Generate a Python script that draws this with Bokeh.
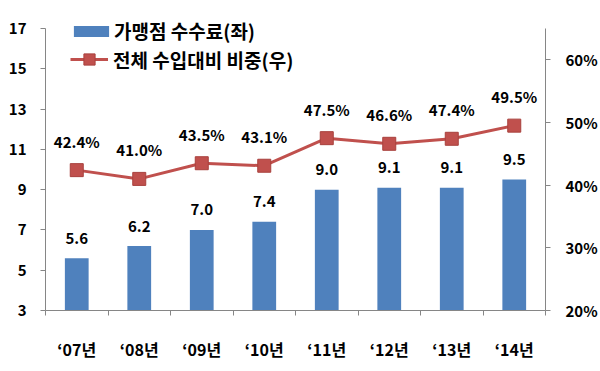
from bokeh.plotting import figure
from bokeh.models import (ColumnDataSource, Range1d, LinearAxis, FixedTicker,
                          PrintfTickFormatter, Legend, LegendItem)
from bokeh.core.properties import value
from bokeh.embed import file_html
from bokeh.resources import INLINE

categories = ["‘07년", "‘08년", "‘09년", "‘10년", "‘11년", "‘12년", "‘13년", "‘14년"]
fees = [5.6, 6.2, 7.0, 7.4, 9.0, 9.1, 9.1, 9.5]
share = [42.4, 41.0, 43.5, 43.1, 47.5, 46.6, 47.4, 49.5]
left_ticks = [3, 5, 7, 9, 11, 13, 15, 17]
right_ticks = [20, 30, 40, 50, 60]
bar_name = "가맹점 수수료(좌)"
line_name = "전체 수입대비 비중(우)"

FONT = "Noto Sans CJK KR"
BLUE = "#4F81BD"
RED = "#C0504D"
AXIS = "#868686"

# layout: axes span 282px; frame extended 14px above for the legend
AXIS_PX = 282.0
EXTRA_PX = 14.0
left_lo, left_hi = 3, 17
right_lo, right_hi = 20, 65
left_top = left_hi + (left_hi - left_lo) * EXTRA_PX / AXIS_PX
right_top = right_hi + (right_hi - right_lo) * EXTRA_PX / AXIS_PX

xs = list(range(1, len(categories) + 1))
src = ColumnDataSource(dict(
    x=xs, fee=fees, share=share,
    fee_lbl=[f"{v:.1f}" for v in fees],
    share_lbl=[f"{v:.1f}%" for v in share],
))

p = figure(width=600, height=371, output_backend="svg", toolbar_location=None,
           x_range=Range1d(0.5, len(categories) + 0.5),
           y_range=Range1d(left_lo, left_top),
           min_border_left=45, min_border_right=55, min_border_top=14, min_border_bottom=61,
           x_axis_location=None, y_axis_location=None)
p.outline_line_color = None
p.xgrid.visible = False
p.ygrid.visible = False
p.background_fill_color = "white"
p.border_fill_color = "white"
p.extra_y_ranges = {"pct": Range1d(right_lo, right_top)}

# left axis
yl = LinearAxis(ticker=FixedTicker(ticks=left_ticks, minor_ticks=[]),
                bounds=(left_lo, left_hi))
yl.axis_line_color = AXIS
yl.major_tick_line_color = AXIS
yl.major_tick_out = 5
yl.major_tick_in = 0
yl.minor_tick_line_color = None
yl.major_label_standoff = 14
yl.major_label_text_font = FONT
yl.major_label_text_font_style = "bold"
yl.major_label_text_font_size = "15px"
yl.major_label_text_color = "black"
p.add_layout(yl, "left")

# right axis
yr = LinearAxis(y_range_name="pct", ticker=FixedTicker(ticks=right_ticks, minor_ticks=[]),
                formatter=PrintfTickFormatter(format="%d%%"), bounds=(right_lo, right_hi))
yr.axis_line_color = AXIS
yr.major_tick_line_color = AXIS
yr.major_tick_out = 5
yr.major_tick_in = 0
yr.minor_tick_line_color = None
yr.major_label_standoff = 15
yr.major_label_text_font = FONT
yr.major_label_text_font_style = "bold"
yr.major_label_text_font_size = "15px"
yr.major_label_text_color = "black"
p.add_layout(yr, "right")

# bottom axis: labels at centres, ticks at boundaries
bounds = [x - 0.5 for x in xs] + [xs[-1] + 0.5]
xa = LinearAxis(ticker=FixedTicker(ticks=xs, minor_ticks=bounds))
xa.major_label_overrides = {x: c for x, c in zip(xs, categories)}
xa.axis_line_color = AXIS
xa.major_tick_line_color = None
xa.major_tick_out = 0
xa.major_tick_in = 0
xa.minor_tick_line_color = AXIS
xa.minor_tick_out = 5
xa.minor_tick_in = 0
xa.major_label_standoff = 21
xa.major_label_text_font = FONT
xa.major_label_text_font_style = "bold"
xa.major_label_text_font_size = "16px"
xa.major_label_text_color = "black"
p.add_layout(xa, "below")

bars = p.vbar(x="x", top="fee", bottom=left_lo, width=0.38, source=src,
              fill_color=BLUE, line_color=None)
ln = p.line(x="x", y="share", source=src, y_range_name="pct",
            line_color=RED, line_width=3)
mk = p.scatter(x="x", y="share", source=src, y_range_name="pct", marker="square",
               size=13, fill_color=RED, line_color="#A8403D", line_width=1)

p.text(x="x", y="fee", text="fee_lbl", source=src, text_align="center",
       text_baseline="middle", y_offset=-20, text_font=value(FONT),
       text_font_style="bold", text_font_size="15px", text_color="black")
p.text(x="x", y="share", text="share_lbl", source=src, y_range_name="pct",
       text_align="center", text_baseline="middle", y_offset=-29,
       text_font=value(FONT), text_font_style="bold", text_font_size="15px",
       text_color="black")

def style_legend(lg):
    lg.border_line_color = None
    lg.background_fill_alpha = 0
    lg.padding = 0
    lg.margin = 0
    lg.spacing = 0
    lg.label_text_font = FONT
    lg.label_text_font_style = "bold"
    lg.label_text_font_size = "19px"
    lg.label_text_color = "black"

lg1 = Legend(items=[LegendItem(label=bar_name, renderers=[bars])],
             location=(24, 266), glyph_width=44, glyph_height=14,
             label_height=20, label_standoff=1)
style_legend(lg1)
lg2 = Legend(items=[LegendItem(label=line_name, renderers=[ln, mk])],
             location=(25, 237), glyph_width=38, glyph_height=28,
             label_height=20, label_standoff=5)
style_legend(lg2)
p.add_layout(lg1, "center")
p.add_layout(lg2, "center")

open("out.html", "w").write(file_html(p, INLINE))
